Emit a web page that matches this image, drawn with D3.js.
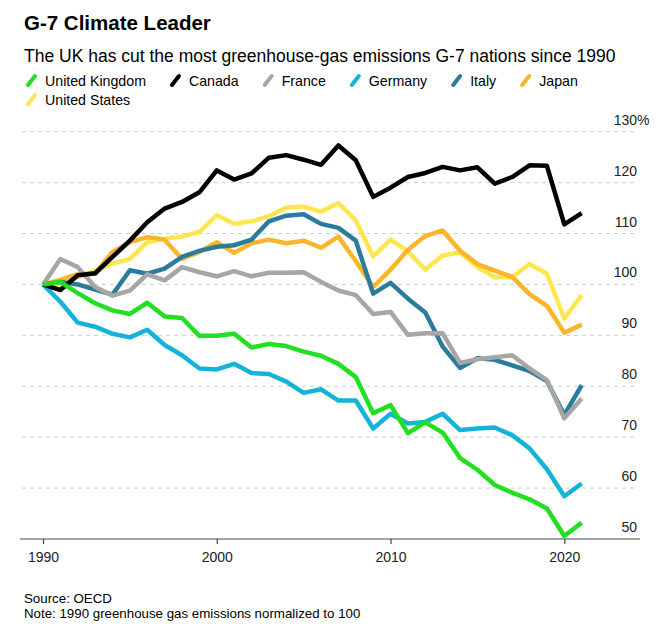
<!DOCTYPE html>
<html>
<head>
<meta charset="utf-8">
<script src="https://cdn.jsdelivr.net/npm/d3@7"></script>
<style>
  html, body { margin: 0; padding: 0; background: #fff; }
  svg { display: block; font-family: "Liberation Sans", Arial, Helvetica, sans-serif; }
</style>
</head>
<body>
<svg id="chart" width="660" height="634"></svg>
<script>
const years = [1990,1991,1992,1993,1994,1995,1996,1997,1998,1999,2000,2001,2002,2003,2004,2005,2006,2007,2008,2009,2010,2011,2012,2013,2014,2015,2016,2017,2018,2019,2020,2021];

const unitedKingdom = [100,100.5,98.3,96.3,94.9,94.2,96.4,93.7,93.4,89.9,89.9,90.3,87.6,88.3,87.9,86.8,86.0,84.4,81.8,74.7,76.3,70.8,72.9,70.9,65.9,63.6,60.6,59.1,57.8,56.0,50.6,53.2];
const canada = [100,98.9,101.8,102.2,105.4,108.6,112.2,114.9,116.2,118.1,122.4,120.6,121.8,124.9,125.4,124.5,123.5,127.3,124.4,117.2,119.0,121.1,121.9,123.1,122.4,123.0,119.8,121.1,123.4,123.3,111.8,114.0];
const france = [100,105.0,103.4,99.5,97.8,98.8,102.0,100.8,103.4,102.4,101.6,102.6,101.6,102.3,102.3,102.4,100.5,98.8,97.9,94.2,94.6,90.1,90.4,90.4,84.6,85.3,85.7,86.1,83.5,81.2,73.7,77.6];
const germany = [100,96.6,92.5,91.7,90.3,89.6,91.1,88.1,86.1,83.5,83.3,84.4,82.6,82.4,80.9,78.7,79.4,77.2,77.2,71.7,74.6,72.7,73.0,74.6,71.4,71.7,71.9,70.4,67.8,63.7,58.4,60.9];
const italy = [100,100.5,100.0,99.0,98.0,102.8,102.1,103.1,105.4,106.6,107.4,107.7,108.8,112.4,113.5,113.8,111.9,111.1,108.6,98.2,100.3,97.2,94.5,87.8,83.6,85.5,85.2,84.1,83.0,81.0,74.4,80.2];
const japan = [100,100.9,102.0,102.1,106.4,108.3,109.3,108.8,105.0,106.4,108.3,106.2,108.1,108.8,108.1,108.6,107.2,109.4,104.6,99.5,102.9,106.8,109.5,110.6,106.6,104.0,102.7,101.5,98.1,95.8,90.5,92.1];
const unitedStates = [100,99.9,101.4,102.7,104.1,105.0,108.3,109.0,109.4,110.3,113.6,111.9,112.4,113.4,115.1,115.3,114.3,116.0,112.6,105.5,108.8,106.5,102.9,105.7,106.3,103.4,101.4,101.4,104.0,102.1,93.3,97.9];

const seriesNames = ["United Kingdom","Canada","France","Germany","Italy","Japan","United States"];
const seriesValues = [unitedKingdom, canada, france, germany, italy, japan, unitedStates];
const seriesColors = ["#21e021","#000000","#a6a6a6","#14b4d8","#2b7b9c","#fbb52b","#fde64f"];
const drawOrder = [6,5,4,2,3,1,0];

const yTicks = [50,60,70,80,90,100,110,120,130];
const xTicks = [1990,2000,2010,2020];

const title = "G-7 Climate Leader";
const subtitle = "The UK has cut the most greenhouse-gas emissions G-7 nations since 1990";
const source = "Source: OECD";
const note = "Note: 1990 greenhouse gas emissions normalized to 100";

const svg = d3.select("#chart");

const x = d3.scaleLinear().domain([1990, 2020]).range([43, 564.3]);
const y = d3.scaleLinear().domain([50, 130]).range([539, 131.7]);

// Title & subtitle
svg.append("text").attr("x", 24).attr("y", 30)
  .attr("font-size", 20.5).attr("font-weight", "bold").attr("fill", "#000")
  .text(title);
svg.append("text").attr("x", 24).attr("y", 62)
  .attr("font-size", 17.5).attr("fill", "#000")
  .text(subtitle);

// Legend
const legend = svg.append("g");
let lx = 26, ly = 86;
seriesNames.forEach((name, i) => {
  const g = legend.append("g");
  g.append("line")
    .attr("x1", 2).attr("y1", -1).attr("x2", 9).attr("y2", -10)
    .attr("stroke", seriesColors[i]).attr("stroke-width", 4).attr("stroke-linecap", "round");
  const t = g.append("text").attr("x", 19).attr("y", 0)
    .attr("font-size", 14.2).attr("fill", "#000").text(name);
  const w = 19 + t.node().getComputedTextLength();
  if (lx + w > 640) { lx = 26; ly += 19; }
  g.attr("transform", `translate(${lx},${ly})`);
  lx += w + 24;
});

// Gridlines
svg.append("g").selectAll("line")
  .data(yTicks.filter(d => d > 50))
  .join("line")
  .attr("x1", 22).attr("x2", 637)
  .attr("y1", d => y(d)).attr("y2", d => y(d))
  .attr("stroke", "#cfcfcf").attr("stroke-width", 1)
  .attr("stroke-dasharray", "4,4");

// Y labels (right side)
const yl = svg.append("g");
yl.selectAll("text.yl")
  .data(yTicks)
  .join("text")
  .attr("class", "yl")
  .attr("x", 637).attr("y", d => y(d) - 7)
  .attr("text-anchor", "end")
  .attr("font-size", 14).attr("fill", "#222")
  .text(d => d);
yl.append("text")
  .attr("x", 637).attr("y", y(130) - 7)
  .attr("font-size", 14).attr("fill", "#222")
  .text("%");

// Lines
const line = d3.line()
  .x((d, i) => x(years[i]))
  .y(d => y(d));

const lines = svg.append("g");
drawOrder.forEach(i => {
  lines.append("path")
    .datum(seriesValues[i])
    .attr("d", line)
    .attr("fill", "none")
    .attr("stroke", seriesColors[i])
    .attr("stroke-width", 4.5)
    .attr("stroke-linejoin", "round")
    .attr("stroke-linecap", "butt");
});

// X axis
const xAxis = d3.axisBottom(x).tickValues(xTicks).tickSize(5).tickFormat(d3.format("d"));
const gx = svg.append("g").attr("transform", `translate(0,${y(50)})`).call(xAxis);
gx.select(".domain").remove();
gx.append("line").attr("x1", 20).attr("x2", 640).attr("y1", 0).attr("y2", 0)
  .attr("stroke", "#444").attr("stroke-width", 1.2);
gx.selectAll(".tick line").attr("stroke", "#444").attr("stroke-width", 1.2);
gx.selectAll(".tick text")
  .attr("font-family", "Liberation Sans, Arial, sans-serif")
  .attr("font-size", 14).attr("fill", "#222").attr("dy", null).attr("y", 23);

// Source & note
svg.append("text").attr("x", 24).attr("y", 603)
  .attr("font-size", 13.3).attr("fill", "#000").text(source);
svg.append("text").attr("x", 24).attr("y", 618)
  .attr("font-size", 13.3).attr("fill", "#000").text(note);
</script>
</body>
</html>
